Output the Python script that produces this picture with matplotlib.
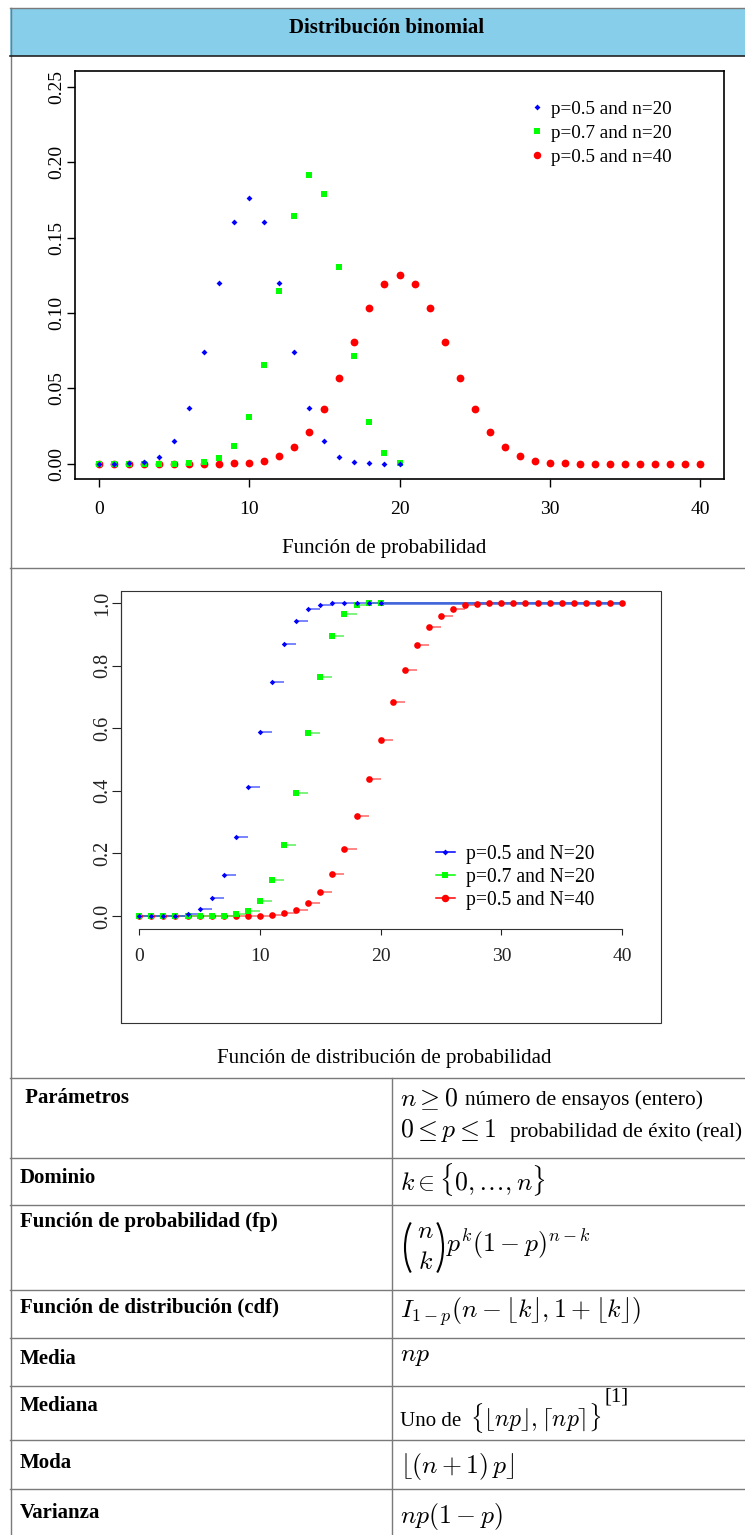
import matplotlib
matplotlib.use("Agg")
import matplotlib.pyplot as plt
from matplotlib.lines import Line2D
from matplotlib.patches import Rectangle, Arc

plt.rcParams['font.family'] = ['Liberation Serif', 'DejaVu Serif']
plt.rcParams['mathtext.fontset'] = 'cm'

W, H = 745, 1535

# values
k20 = list(range(21))
k40 = list(range(41))

pmf_05_20 = [0.000001, 0.000019, 0.000181, 0.001087, 0.004621, 0.014786, 0.036964,
             0.073929, 0.120134, 0.160179, 0.176197, 0.160179, 0.120134, 0.073929,
             0.036964, 0.014786, 0.004621, 0.001087, 0.000181, 0.000019, 0.000001]
pmf_07_20 = [0.0, 0.0, 0.0, 0.0000005, 0.000005, 0.000037, 0.000218, 0.001018,
             0.003859, 0.012007, 0.030817, 0.065370, 0.114397, 0.164262, 0.191639,
             0.178863, 0.130421, 0.071604, 0.027846, 0.006839, 0.000798]
pmf_05_40 = [0.0, 0.0, 0.0, 0.0, 0.0, 0.0000006, 0.0000035, 0.000017, 0.00007,
             0.000249, 0.000771, 0.002103, 0.005081, 0.010944, 0.021107, 0.036585,
             0.057164, 0.080702, 0.103119, 0.119401, 0.125371, 0.119401, 0.103119,
             0.080702, 0.057164, 0.036585, 0.021107, 0.010944, 0.005081, 0.002103,
             0.000771, 0.000249, 0.00007, 0.000017, 0.0000035, 0.0000006, 0.0, 0.0,
             0.0, 0.0, 0.0]

cdf_05_20 = [0.000001, 0.00002, 0.000201, 0.001288, 0.005909, 0.020695, 0.057659,
             0.131588, 0.251722, 0.411901, 0.588099, 0.748278, 0.868412, 0.942341,
             0.979305, 0.994091, 0.998712, 0.999799, 0.99998, 0.999999, 1.0]
cdf_07_20 = [0.0, 0.0, 0.0, 0.0000005, 0.0000055, 0.000043, 0.000261, 0.001279,
             0.005138, 0.017145, 0.047962, 0.113331, 0.227728, 0.391990, 0.583629,
             0.762492, 0.892913, 0.964517, 0.992363, 0.999202, 1.0]
cdf_05_40 = [0.0, 0.0, 0.0, 0.0, 0.0, 0.0000006, 0.000002, 0.000019, 0.000089,
             0.000338, 0.001109, 0.003212, 0.008293, 0.019237, 0.040344, 0.076929,
             0.134093, 0.214795, 0.317914, 0.437315, 0.562685, 0.682086, 0.785205,
             0.865907, 0.923071, 0.959656, 0.980763, 0.991707, 0.996788, 0.998891,
             0.999662, 0.999911, 0.999981, 0.999998, 1.0, 1.0, 1.0, 1.0, 1.0, 1.0, 1.0]

pmf_labels = ['p=0.5 and n=20', 'p=0.7 and n=20', 'p=0.5 and n=40']
cdf_labels = ['p=0.5 and N=20', 'p=0.7 and N=20', 'p=0.5 and N=40']
xticks = [0, 10, 20, 30, 40]
pmf_yticks = [0.0, 0.05, 0.10, 0.15, 0.20, 0.25]
cdf_yticks = [0.0, 0.2, 0.4, 0.6, 0.8, 1.0]

row_labels = [' Parámetros', 'Dominio', 'Función de probabilidad (fp)',
              'Función de distribución (cdf)', 'Media', 'Mediana', 'Moda', 'Varianza']

fig = plt.figure(figsize=(W / 100, H / 100), dpi=100)


def px_axes(left, top, right, bottom):
    return fig.add_axes([left / W, 1 - bottom / H, (right - left) / W, (bottom - top) / H])


# background layer in pixel units: frame, header, table
bg = fig.add_axes([0, 0, 1, 1])
bg.set_xlim(0, W)
bg.set_ylim(H, 0)
bg.axis('off')

grey = '#7a7a7a'
bg.add_patch(Rectangle((10, 8), W - 10, 48, facecolor='#87ceeb', edgecolor='none'))
bg.plot([10, W], [8, 8], color=grey, lw=1)
bg.plot([10.5, 10.5], [8, H], color=grey, lw=1)
bg.plot([10, W], [56, 56], color='#222222', lw=1.2)
bg.plot([10, W], [568, 568], color=grey, lw=1)
for y in [1078, 1158, 1205, 1290, 1338, 1386, 1440, 1489]:
    bg.plot([10, W], [y, y], color=grey, lw=1)
bg.plot([392, 392], [1078, H], color=grey, lw=1)

bg.text(387, 28, 'Distribución binomial', fontsize=15, fontweight='bold', ha='center', va='center')
bg.text(384, 549, 'Función de probabilidad', fontsize=15, ha='center', va='center')
bg.text(384, 1059, 'Función de distribución de probabilidad', fontsize=15, ha='center', va='center')

row_y = [1098, 1178, 1222, 1307, 1359, 1406, 1463, 1513]
for lab, y in zip(row_labels, row_y):
    bg.text(20, y, lab, fontsize=15, fontweight='bold', ha='left', va='center')

mfs = 18.5
bg.text(400, 1099, r'$n \geq 0$', fontsize=mfs, va='center')
bg.text(465, 1100, 'número de ensayos (entero)', fontsize=15.4, va='center')
bg.text(400, 1131, r'$0 \leq p \leq 1$', fontsize=mfs, va='center')
bg.text(510, 1132, 'probabilidad de éxito (real)', fontsize=15.3, va='center')
bg.text(400, 1180, r'$k \in \{0,\ldots,n\}$', fontsize=mfs, va='center')
# binomial coefficient: tall parentheses drawn as arcs
bg.add_patch(Arc((423, 1247.5), 36, 68, theta1=116, theta2=244, color='black', lw=1.5))
bg.add_patch(Arc((425, 1247.5), 36, 68, theta1=-64, theta2=64, color='black', lw=1.5))
bg.text(425, 1232, r'$n$', fontsize=mfs, ha='center', va='center')
bg.text(426, 1263, r'$k$', fontsize=mfs, ha='center', va='center')
bg.text(446, 1244, r'$p^k(1-p)^{n-k}$', fontsize=mfs, va='center')
bg.text(400, 1312, r'$I_{1-p}(n-\lfloor k\rfloor,1+\lfloor k\rfloor)$', fontsize=mfs, va='center')
bg.text(400, 1357, r'$np$', fontsize=mfs, va='center')
bg.text(400, 1421, 'Uno de', fontsize=15, va='center')
bg.text(470, 1418, r'$\{\lfloor np\rfloor,\lceil np\rceil\}$', fontsize=17, va='center')
bg.text(605, 1397, '[1]', fontsize=15, va='center')
bg.text(400, 1466, r'$\lfloor(n+1)\,p\rfloor$', fontsize=mfs, va='center')
bg.text(400, 1516, r'$np(1-p)$', fontsize=mfs, va='center')

green = '#00ff00'
styles = [('blue', 'D', 3.0), (green, 's', 4.3), ('red', 'o', 5.4)]

# probability mass function
ax1 = px_axes(75, 71, 724, 479)
ax1.plot(k40, pmf_05_40, ls='none', marker='o', ms=5.6, mew=0, color='red', label=pmf_labels[2])
ax1.plot(k20, pmf_07_20, ls='none', marker='s', ms=4.3, mew=0, color=green, label=pmf_labels[1])
ax1.plot(k20, pmf_05_20, ls='none', marker='D', ms=3.0, mew=0, color='blue', label=pmf_labels[0])
ax1.set_xlim(-1.6, 41.6)
ax1.set_ylim(-0.0101, 0.2604)
ax1.set_xticks(xticks)
ax1.set_yticks(pmf_yticks)
ax1.set_yticklabels(['%.2f' % v for v in pmf_yticks], rotation=90, va='center')
ax1.tick_params(axis='both', length=5.8, width=1, labelsize=14)
ax1.tick_params(axis='x', pad=10)
ax1.tick_params(axis='y', pad=1.5)
for s in ax1.spines.values():
    s.set_linewidth(1.2)
h1 = [Line2D([], [], ls='none', marker=m, ms=ms, mew=0, color=c) for c, m, ms in styles]
ax1.legend(h1, pmf_labels, loc='upper left', bbox_to_anchor=(529 / W, 1 - 100.5 / H),
           bbox_transform=fig.transFigure, frameon=False, fontsize=13.8, borderpad=0,
           borderaxespad=0, handlelength=0.8, handletextpad=0.35, labelspacing=0.35)

# cumulative distribution function
ax2 = px_axes(121, 591, 661, 1023)
series = [(k40, cdf_05_40, 'red', 'o', 4.8, '#ff4040'),
          (k20, cdf_07_20, green, 's', 4.3, '#30ee30'),
          (k20, cdf_05_20, 'blue', 'D', 2.8, '#2a3cff')]
x_end = max(k40)
for ks, fs, c, m, ms, lc in series:
    right = [k + 1 for k in ks[:-1]] + [x_end]
    ax2.hlines(fs, ks, right, colors=lc, lw=1.1, alpha=0.8, zorder=2)
    ax2.plot(ks, fs, ls='none', marker=m, ms=ms, mew=0, color=c, zorder=3)
ax2.hlines(cdf_05_20[-1], k20[-1], x_end, colors='#4466dd', lw=1.8, zorder=2.5)
ax2.set_xlim(-1.516, 43.23)
ax2.set_ylim(-0.342, 1.038)
ax2.spines['top'].set_visible(False)
ax2.spines['right'].set_visible(False)
ax2.spines['bottom'].set_position(('data', -0.0425))
ax2.spines['bottom'].set_bounds(0, 40)
ax2.spines['bottom'].set_color('#333333')
ax2.spines['left'].set_color('#333333')
ax2.spines['left'].set_linewidth(0.8)
ax2.add_patch(Rectangle((0, 0), 1, 1, transform=ax2.transAxes, fill=False,
                        edgecolor='#333333', lw=0.8, clip_on=False))
ax2.set_xticks(xticks)
ax2.set_yticks(cdf_yticks)
ax2.set_yticklabels(['%.1f' % v for v in cdf_yticks], rotation=90, va='center')
ax2.tick_params(axis='x', length=4.3, width=0.8, labelsize=14, pad=9.5, colors='#222222')
ax2.tick_params(axis='y', length=6.5, width=0.8, labelsize=14.5, pad=-0.5, colors='#222222')
h2 = [Line2D([], [], color=c, marker=m, ms=ms, mew=0, lw=1.1) for c, m, ms in styles]
ax2.legend(h2, cdf_labels, loc='upper left', bbox_to_anchor=(436 / W, 1 - 845 / H),
           bbox_transform=fig.transFigure, frameon=False, fontsize=14.1, borderpad=0,
           borderaxespad=0, handlelength=0.97, handletextpad=0.54, labelspacing=0.21)

fig.savefig('out.png', dpi=100)
